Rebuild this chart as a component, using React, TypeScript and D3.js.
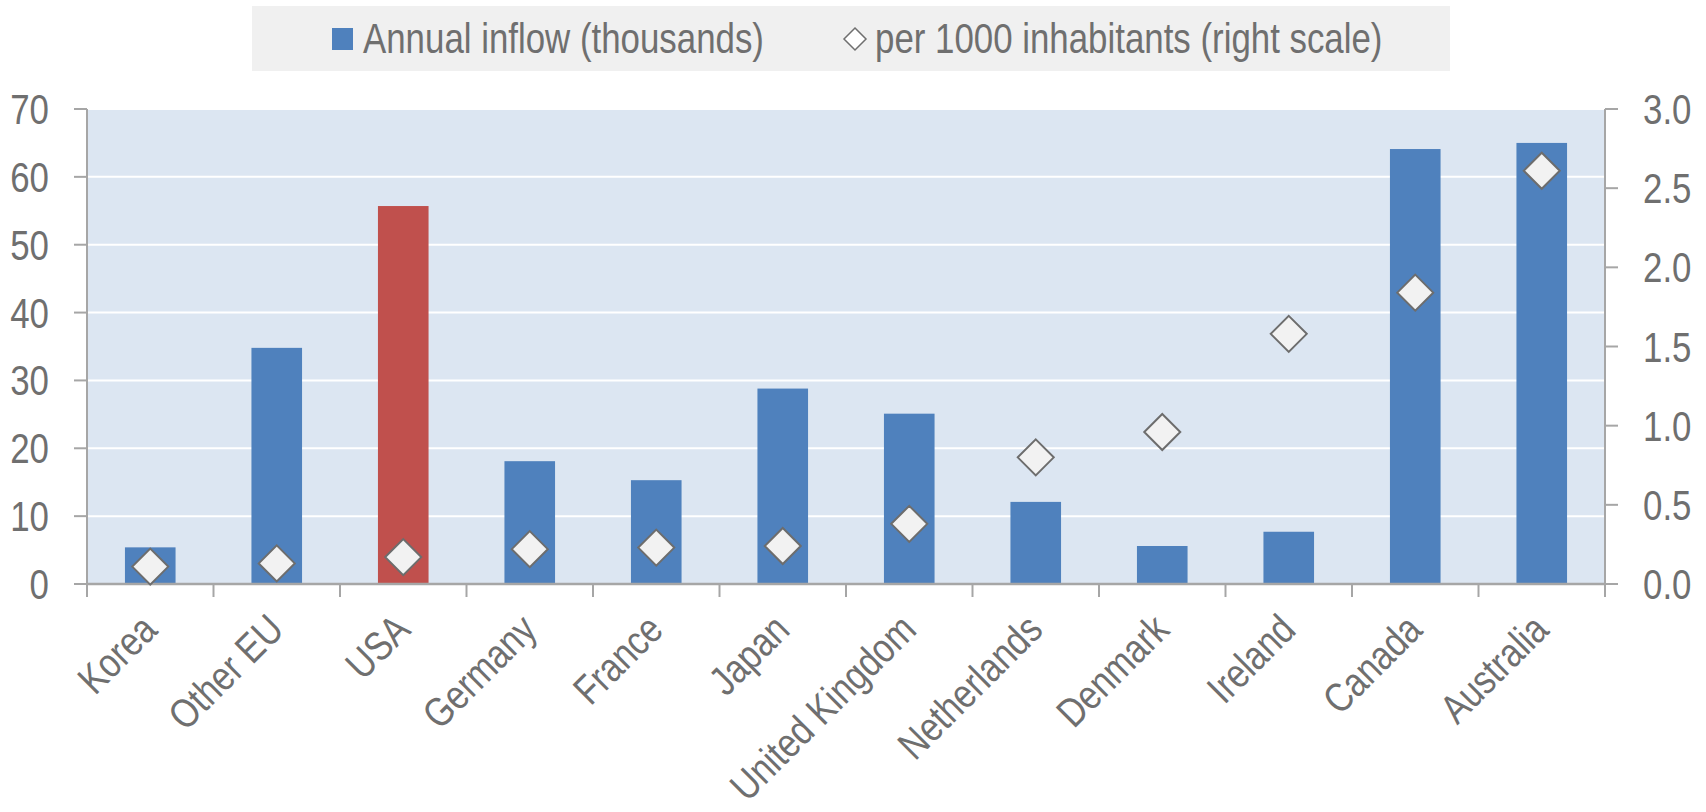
import React from "react";
import * as d3 from "d3";

// categories and values
const countries = ["Korea", "Other EU", "USA", "Germany", "France", "Japan", "United Kingdom", "Netherlands", "Denmark", "Ireland", "Canada", "Australia"];
const inflow = [5.4, 34.8, 55.7, 18.1, 15.3, 28.8, 25.1, 12.1, 5.6, 7.7, 64.1, 65.0];
const perThousand = [0.11, 0.13, 0.17, 0.22, 0.23, 0.24, 0.38, 0.80, 0.96, 1.58, 1.84, 2.61];
const leftTicks = [0, 10, 20, 30, 40, 50, 60, 70];
const rightTicks = [0, 0.5, 1, 1.5, 2, 2.5, 3];
const highlight = "USA";

const W = 1706;
const H = 812;
const plot = { left: 87, right: 1605, top: 109, bottom: 584 };
const FONT = "'Liberation Sans', Arial, sans-serif";
const TXT = "#6f6f6f";
const AXIS = "#a6a6a6";
const NARROW = 0.83; // no Arial Narrow here, so squeeze Liberation Sans

// text squeezed horizontally to mimic a narrow face
const NText = ({ x, y, rotate = 0, anchor = "start", size, children }: any) => (
  <text
    transform={`translate(${x},${y}) rotate(${rotate}) scale(${NARROW},1)`}
    textAnchor={anchor}
    fontSize={size}
    fill={TXT}
  >
    {children}
  </text>
);

export default function App() {
  const x = d3.scaleBand<string>().domain(countries).range([plot.left, plot.right]).padding(0);
  const yL = d3.scaleLinear().domain([0, 70]).range([plot.bottom, plot.top]);
  const yR = d3.scaleLinear().domain([0, 3]).range([plot.bottom, plot.top]);
  const barW = x.bandwidth() * 0.4;
  const dm = 18; // diamond half size

  const diamond = (cx: number, cy: number, r: number) =>
    `M${cx},${cy - r}L${cx + r},${cy}L${cx},${cy + r}L${cx - r},${cy}Z`;

  return (
    <svg width={W} height={H} style={{ position: "absolute", left: 0, top: 0 }} fontFamily={FONT}>
      {/* legend */}
      <rect x={252} y={6} width={1198} height={65} fill="#f0f0f0" />
      <rect x={332} y={28} width={21} height={22} fill="#4f81bd" />
      <NText x={363} y={53} size={42}>Annual inflow (thousands)</NText>
      <path d={diamond(855, 39, 11)} fill="#fff" stroke={TXT} strokeWidth={1.5} />
      <NText x={875} y={53} size={42}>per 1000 inhabitants (right scale)</NText>

      {/* plot area */}
      <rect x={plot.left} y={plot.top} width={plot.right - plot.left} height={plot.bottom - plot.top} fill="#dce6f2" />
      {leftTicks.slice(1).map((t) => (
        <line key={"g" + t} x1={plot.left} x2={plot.right} y1={yL(t)} y2={yL(t)} stroke="#fff" strokeWidth={2} />
      ))}

      {/* bars */}
      {countries.map((c, i) => (
        <rect
          key={"b" + c}
          x={x(c)! + (x.bandwidth() - barW) / 2}
          y={yL(inflow[i])}
          width={barW}
          height={yL(0) - yL(inflow[i])}
          fill={c === highlight ? "#c0504d" : "#4f81bd"}
        />
      ))}

      {/* axes */}
      <line x1={plot.left} x2={plot.right} y1={plot.bottom} y2={plot.bottom} stroke={AXIS} strokeWidth={2.5} />
      <line x1={plot.left} x2={plot.left} y1={plot.top} y2={plot.bottom + 13} stroke={AXIS} strokeWidth={2} />
      <line x1={plot.right} x2={plot.right} y1={plot.top} y2={plot.bottom + 13} stroke={AXIS} strokeWidth={2} />
      {leftTicks.map((t) => (
        <g key={"l" + t}>
          <line x1={plot.left - 13} x2={plot.left} y1={yL(t)} y2={yL(t)} stroke={AXIS} strokeWidth={2} />
          <NText x={49} y={yL(t) + 15} anchor="end" size={42}>{t}</NText>
        </g>
      ))}
      {rightTicks.map((t) => (
        <g key={"r" + t}>
          <line x1={plot.right} x2={plot.right + 13} y1={yR(t)} y2={yR(t)} stroke={AXIS} strokeWidth={2} />
          <NText x={1643} y={yR(t) + 15} size={42}>{d3.format(".1f")(t)}</NText>
        </g>
      ))}
      {countries.slice(1).map((c) => (
        <line key={"t" + c} x1={x(c)!} x2={x(c)!} y1={plot.bottom} y2={plot.bottom + 13} stroke={AXIS} strokeWidth={2} />
      ))}

      {/* diamonds */}
      {countries.map((c, i) => (
        <path
          key={"d" + c}
          d={diamond(x(c)! + x.bandwidth() / 2, yR(perThousand[i]), dm)}
          fill="#f2f2f2"
          stroke="#6d6d6d"
          strokeWidth={2}
        />
      ))}

      {/* category labels */}
      {countries.map((c) => {
        const cx = x(c)! + x.bandwidth() / 2;
        return (
          <NText key={"c" + c} x={cx + 9} y={632} rotate={-45} anchor="end" size={41}>
            {c}
          </NText>
        );
      })}
    </svg>
  );
}
